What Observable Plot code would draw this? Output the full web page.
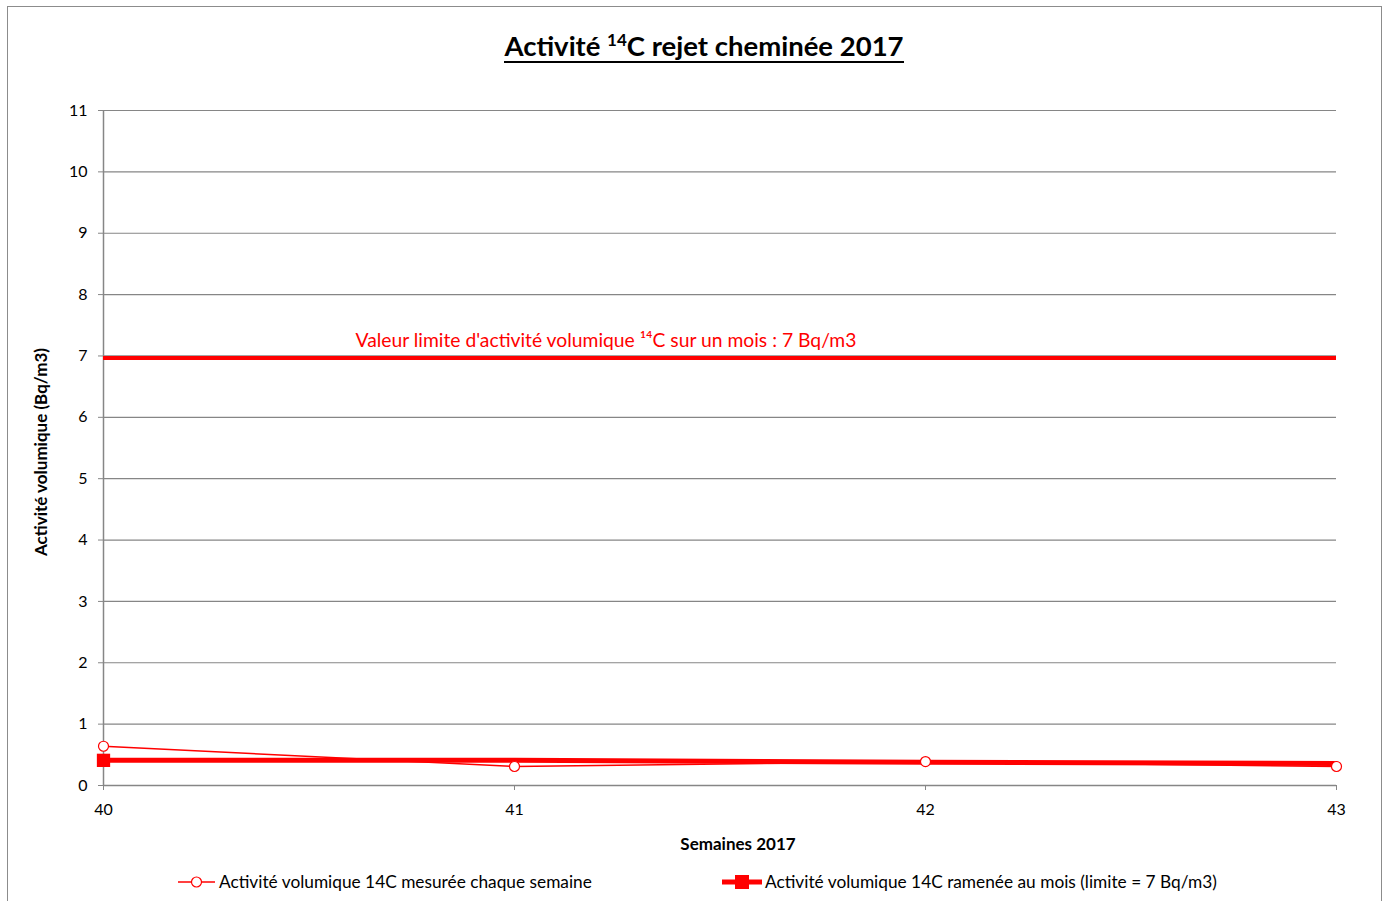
<!DOCTYPE html>
<html>
<head>
<meta charset="utf-8">
<script src="https://cdn.jsdelivr.net/npm/d3@7"></script>
<script src="https://cdn.jsdelivr.net/npm/@observablehq/plot@0.6"></script>
<style>
  html, body { margin: 0; padding: 0; background: #fff; }
  body { width: 1388px; height: 901px; position: relative; overflow: hidden; font-family: Lato, "Open Sans", sans-serif; }
  #frame { position: absolute; left: 7px; top: 6px; width: 1375px; height: 960px; border: 1.5px solid #8c8c8c; box-sizing: border-box; }
  #title { position: absolute; left: 0; width: 1408px; top: 30px; text-align: center; font-size: 27.5px; font-weight: bold; color: #000; line-height: 32px; }
  #title span { display: inline-block; border-bottom: 2px solid #000; padding-bottom: 0px; line-height: 30px; }
  #title sup { font-size: 17px; vertical-align: 10px; line-height: 0; }
  #chart { position: absolute; left: 0; top: 0; }
  #ylab { position: absolute; left: 40px; top: 452px; transform: translate(-50%, -50%) rotate(-90deg); font-size: 17px; font-weight: bold; white-space: nowrap; }
  .leg { position: absolute; top: 871px; font-size: 17.3px; color: #000; display: flex; align-items: center; white-space: nowrap; }
  .leg svg { margin-right: 2px; }
</style>
</head>
<body>
<div id="frame"></div>
<div id="title"><span>Activité <sup>14</sup>C rejet cheminée 2017</span></div>
<div id="chart"></div>
<div id="ylab"></div>
<div class="leg" id="leg1" style="left:177px"></div>
<div class="leg" id="leg2" style="left:721px"></div>
<script>
const weeks = [40, 41, 42, 43];
const weekly = [0.64, 0.31, 0.39, 0.31];
const monthly = [0.41, 0.41, 0.38, 0.36];
const limitValue = 7;
const yTicks = [0, 1, 2, 3, 4, 5, 6, 7, 8, 9, 10, 11];
const seriesNames = ["Activité volumique 14C mesurée chaque semaine", "Activité volumique 14C ramenée au mois (limite = 7 Bq/m3)"];
const limitLabel = "Valeur limite d'activité volumique ¹⁴C sur un mois : 7 Bq/m3";
const xTitle = "Semaines 2017";
const yTitle = "Activité volumique (Bq/m3)";

const weeklyData = weeks.map((w, i) => ({week: w, value: weekly[i]}));
const monthlyData = weeks.map((w, i) => ({week: w, value: monthly[i]}));
const RED = "#ff0000";
const GRID = "#868686";

const chart = Plot.plot({
  width: 1388,
  height: 901,
  marginLeft: 103,
  marginRight: 52,
  marginTop: 110,
  marginBottom: 116,
  style: {fontFamily: "Lato, 'Open Sans', sans-serif", fontSize: "16px", color: "#000", background: "transparent", overflow: "visible"},
  x: {domain: [40, 43], label: null},
  y: {domain: [0, 11], label: null},
  marks: [
    Plot.gridY(yTicks.slice(1), {stroke: GRID, strokeOpacity: 1, strokeWidth: 1.2}),
    Plot.axisY(yTicks, {tickSize: 5, tickPadding: 11, stroke: GRID, fill: "#000", label: null, tickFormat: d => String(d), fontSize: 16}),
    Plot.axisX(weeks, {tickSize: 5, tickPadding: 13, stroke: GRID, fill: "#000", label: null, tickFormat: d => String(d), fontSize: 16}),
    Plot.ruleY([0], {stroke: GRID, strokeWidth: 1.5}),
    Plot.ruleX([40], {stroke: GRID, strokeWidth: 1.5}),
    Plot.ruleY([limitValue], {x1: weeks[0], x2: weeks[weeks.length - 1], stroke: RED, strokeWidth: 4, dy: 2}),
    Plot.text([limitLabel], {x: weeks[0], y: limitValue, dx: 252, dy: -15, textAnchor: "start", fill: RED, fontSize: 19.3}),
    Plot.line(monthlyData, {x: "week", y: "value", stroke: RED, strokeWidth: 5}),
    Plot.dot(monthlyData.slice(0, 1), {x: "week", y: "value", symbol: "square", r: 7.5, fill: RED}),
    Plot.line(weeklyData, {x: "week", y: "value", stroke: RED, strokeWidth: 1.5}),
    Plot.dot(weeklyData, {x: "week", y: "value", r: 5, stroke: RED, fill: "#fff", strokeWidth: 1.2}),
    Plot.text([xTitle], {frameAnchor: "bottom", dx: 18, dy: 64, fontWeight: "bold", fontSize: 17})
  ]
});
document.getElementById("chart").appendChild(chart);
document.getElementById("ylab").textContent = yTitle;

document.getElementById("leg1").innerHTML =
  `<svg width="40" height="20"><line x1="1" y1="10" x2="38" y2="10" stroke="${RED}" stroke-width="1.5"/><circle cx="19.5" cy="10" r="5" fill="#fff" stroke="${RED}" stroke-width="1.2"/></svg><span>${seriesNames[0]}</span>`;
document.getElementById("leg2").innerHTML =
  `<svg width="42" height="20"><line x1="1" y1="10" x2="41" y2="10" stroke="${RED}" stroke-width="5"/><rect x="14" y="3" width="14" height="14" fill="${RED}"/></svg><span>${seriesNames[1]}</span>`;
</script>
</body>
</html>
